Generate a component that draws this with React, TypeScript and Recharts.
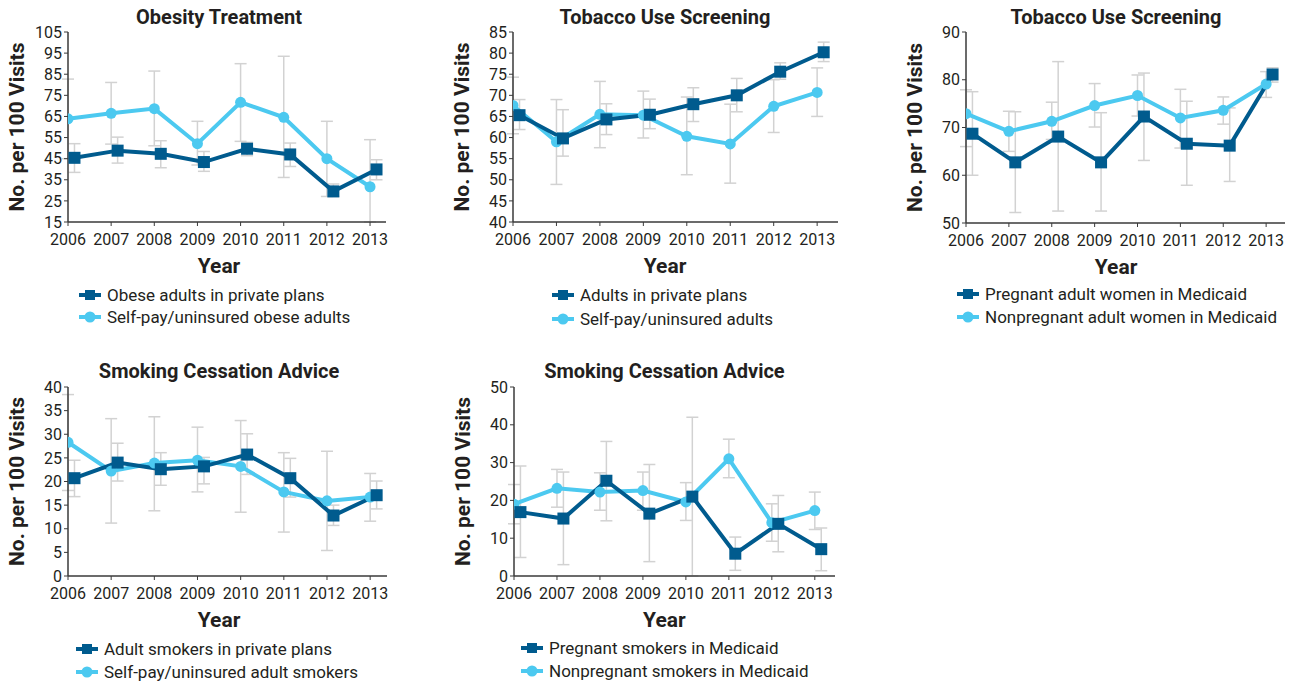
import React from 'react';
import { LineChart, Line, XAxis, YAxis, ErrorBar } from 'recharts';

const YEARS = [2006, 2007, 2008, 2009, 2010, 2011, 2012, 2013];
const DARK = '#005b8e';
const LIGHT = '#4cc9f0';
const ERR = '#d2d2d2';
const AXIS = '#3a3a3a';
const TEXT = '#231f20';
const FONT = 'Roboto, "Noto Sans", sans-serif';

// Chart 1: Obesity Treatment
const obesePrivate = [45.4, 48.8, 47.3, 43.4, 49.7, 47.0, 29.5, 39.9];
const obesePrivateLo = [38.5, 42.9, 40.7, 39.0, 46.4, 41.3, 27.1, 35.0];
const obesePrivateHi = [52.1, 55.2, 53.5, 48.4, 52.7, 52.4, 33.0, 44.5];
const obeseSelfPay = [63.9, 66.5, 68.7, 52.1, 71.7, 64.6, 45.0, 31.7];
const obeseSelfPayLo = [45.0, 51.9, 51.1, 42.0, 53.2, 36.1, 27.1, 15.0];
const obeseSelfPayHi = [82.7, 81.1, 86.5, 62.7, 90.0, 93.5, 62.7, 54.0];

// Chart 2: Tobacco Use Screening (private vs self-pay)
const tobPrivate = [65.3, 59.8, 64.3, 65.4, 67.9, 70.0, 75.6, 80.2];
const tobPrivateLo = [61.9, 55.6, 60.7, 62.1, 63.8, 66.1, 73.8, 78.0];
const tobPrivateHi = [69.0, 66.6, 68.0, 69.1, 71.8, 74.0, 77.7, 82.6];
const tobSelfPay = [67.6, 59.0, 65.5, 65.3, 60.3, 58.5, 67.4, 70.7];
const tobSelfPayLo = [60.9, 48.9, 57.6, 59.9, 51.2, 49.2, 61.2, 65.0];
const tobSelfPayHi = [74.3, 69.0, 73.3, 71.0, 69.6, 67.9, 73.7, 76.5];

// Chart 3: Tobacco Use Screening (Medicaid women)
const tobPregnant = [68.7, 62.7, 68.1, 62.7, 72.3, 66.6, 66.2, 81.1];
const tobPregnantLo = [60.0, 52.2, 52.5, 52.5, 63.1, 57.9, 58.7, 79.5];
const tobPregnantHi = [77.5, 73.3, 83.8, 73.1, 81.4, 75.5, 74.1, 82.5];
const tobNonpregnant = [72.9, 69.2, 71.3, 74.6, 76.7, 72.0, 73.6, 79.1];
const tobNonpregnantLo = [66.0, 65.0, 67.5, 70.1, 72.4, 65.7, 70.7, 76.3];
const tobNonpregnantHi = [77.9, 73.4, 75.3, 79.2, 81.0, 78.0, 76.4, 81.7];

// Chart 4: Smoking Cessation Advice (private vs self-pay)
const smokPrivate = [20.7, 24.0, 22.6, 23.2, 25.7, 20.7, 12.8, 17.1];
const smokPrivateLo = [16.8, 20.1, 19.2, 19.5, 21.5, 16.7, 10.7, 14.2];
const smokPrivateHi = [24.5, 28.1, 26.1, 25.1, 30.1, 24.9, 15.0, 20.1];
const smokSelfPay = [28.3, 22.2, 23.9, 24.5, 23.2, 17.8, 15.9, 16.7];
const smokSelfPayLo = [18.1, 11.2, 13.8, 17.8, 13.5, 9.3, 5.4, 11.6];
const smokSelfPayHi = [38.4, 33.3, 33.7, 31.5, 32.9, 26.1, 26.4, 21.7];

// Chart 5: Smoking Cessation Advice (Medicaid)
const smokPregnant = [16.9, 15.2, 25.2, 16.5, 21.0, 5.9, 13.8, 7.1];
const smokPregnantLo = [4.9, 3.0, 14.6, 3.8, 0.0, 1.5, 6.4, 1.4];
const smokPregnantHi = [29.1, 27.5, 35.6, 29.5, 42.0, 10.3, 21.3, 12.7];
const smokNonpregnant = [19.0, 23.2, 22.2, 22.6, 19.6, 31.0, 14.1, 17.3];
const smokNonpregnantLo = [13.8, 18.2, 17.4, 17.4, 14.7, 26.0, 9.2, 12.3];
const smokNonpregnantHi = [24.2, 28.2, 27.3, 27.5, 24.7, 36.2, 19.1, 22.2];

const ticks1 = [15, 25, 35, 45, 55, 65, 75, 85, 95, 105];
const ticks2 = [40, 45, 50, 55, 60, 65, 70, 75, 80, 85];
const ticks3 = [50, 60, 70, 80, 90];
const ticks4 = [0, 5, 10, 15, 20, 25, 30, 35, 40];
const ticks5 = [0, 10, 20, 30, 40, 50];

type Panel = {
  title: string;
  darkLabel: string;
  lightLabel: string;
  axisX: number;
  axisTop: number;
  axisBottom: number;
  axisRight: number;
  rowTop: number;
  xMax: number;
  yTicks: number[];
  dark: number[];
  darkLo: number[];
  darkHi: number[];
  light: number[];
  lightLo: number[];
  lightHi: number[];
  titleY: number;
  legendTextX: number;
  legendY: [number, number];
};

const panels: Panel[] = [
  {
    title: 'Obesity Treatment',
    darkLabel: 'Obese adults in private plans',
    lightLabel: 'Self-pay/uninsured obese adults',
    axisX: 68, axisTop: 32, axisBottom: 222, axisRight: 386, rowTop: 0, xMax: 2013.37,
    yTicks: ticks1,
    dark: obesePrivate, darkLo: obesePrivateLo, darkHi: obesePrivateHi,
    light: obeseSelfPay, lightLo: obeseSelfPayLo, lightHi: obeseSelfPayHi,
    titleY: 17, legendTextX: 107, legendY: [295, 317],
  },
  {
    title: 'Tobacco Use Screening',
    darkLabel: 'Adults in private plans',
    lightLabel: 'Self-pay/uninsured adults',
    axisX: 513, axisTop: 32, axisBottom: 222, axisRight: 838, rowTop: 0, xMax: 2013.48,
    yTicks: ticks2,
    dark: tobPrivate, darkLo: tobPrivateLo, darkHi: tobPrivateHi,
    light: tobSelfPay, lightLo: tobSelfPayLo, lightHi: tobSelfPayHi,
    titleY: 17, legendTextX: 580, legendY: [295, 319],
  },
  {
    title: 'Tobacco Use Screening',
    darkLabel: 'Pregnant adult women in Medicaid',
    lightLabel: 'Nonpregnant adult women in Medicaid',
    axisX: 966, axisTop: 32, axisBottom: 223, axisRight: 1285, rowTop: 0, xMax: 2013.44,
    yTicks: ticks3,
    dark: tobPregnant, darkLo: tobPregnantLo, darkHi: tobPregnantHi,
    light: tobNonpregnant, lightLo: tobNonpregnantLo, lightHi: tobNonpregnantHi,
    titleY: 17, legendTextX: 985, legendY: [294, 317],
  },
  {
    title: 'Smoking Cessation Advice',
    darkLabel: 'Adult smokers in private plans',
    lightLabel: 'Self-pay/uninsured adult smokers',
    axisX: 68, axisTop: 387, axisBottom: 576, axisRight: 387, rowTop: 355, xMax: 2013.39,
    yTicks: ticks4,
    dark: smokPrivate, darkLo: smokPrivateLo, darkHi: smokPrivateHi,
    light: smokSelfPay, lightLo: smokSelfPayLo, lightHi: smokSelfPayHi,
    titleY: 371, legendTextX: 104, legendY: [649, 672],
  },
  {
    title: 'Smoking Cessation Advice',
    darkLabel: 'Pregnant smokers in Medicaid',
    lightLabel: 'Nonpregnant smokers in Medicaid',
    axisX: 514, axisTop: 387, axisBottom: 576, axisRight: 835, rowTop: 355, xMax: 2013.47,
    yTicks: ticks5,
    dark: smokPregnant, darkLo: smokPregnantLo, darkHi: smokPregnantHi,
    light: smokNonpregnant, lightLo: smokNonpregnantLo, lightHi: smokNonpregnantHi,
    titleY: 371, legendTextX: 549, legendY: [648, 671],
  },
];

const DARK_SHIFT = 0.15;

function SquareDot(props: any) {
  const { cx, cy, index } = props;
  if (cx == null || cy == null) return <g key={`sq-${index}`} />;
  return <rect key={`sq-${index}`} x={cx - 6} y={cy - 6} width={12} height={12} fill={DARK} />;
}

function LegendIcon({ color, square }: { color: string; square: boolean }) {
  return (
    <svg width={24} height={14} style={{ display: 'block' }}>
      <line x1={1} y1={7} x2={23} y2={7} stroke={color} strokeWidth={4} />
      {square ? (
        <rect x={7} y={2} width={10} height={10} fill={color} />
      ) : (
        <circle cx={12} cy={7} r={5.5} fill={color} />
      )}
    </svg>
  );
}

function LegendRow({ x, y, color, square, label }: { x: number; y: number; color: string; square: boolean; label: string }) {
  return (
    <div
      style={{
        position: 'absolute',
        left: x - 29,
        top: y - 11,
        height: 22,
        display: 'flex',
        alignItems: 'center',
        whiteSpace: 'nowrap',
        fontSize: 17,
        color: TEXT,
        fontFamily: FONT,
      }}
    >
      <LegendIcon color={color} square={square} />
      <span style={{ marginLeft: 5 }}>{label}</span>
    </div>
  );
}

function ChartPanel({ p }: { p: Panel }) {
  const boxLeft = p.axisX - 68;
  const xAxisH = 60;
  const W = p.axisRight - boxLeft + 6;
  const H = p.axisBottom - p.rowTop + xAxisH;
  const lightData = YEARS.map((yr, i) => ({
    x: yr,
    v: p.light[i],
    err: [p.light[i] - p.lightLo[i], p.lightHi[i] - p.light[i]],
  }));
  const darkData = YEARS.map((yr, i) => ({
    x: yr + DARK_SHIFT,
    v: p.dark[i],
    err: [p.dark[i] - p.darkLo[i], p.darkHi[i] - p.dark[i]],
  }));
  const yMin = p.yTicks[0];
  const yMax = p.yTicks[p.yTicks.length - 1];
  const span = p.xMax - 2006;

  const yearLabel = (props: any) => {
    const vb = props.viewBox || {};
    const cx = vb.x + (vb.width * 3.5) / span;
    return (
      <text x={cx} y={vb.y + 44} textAnchor="middle" dominantBaseline="central" fontSize={21} fontWeight={700} fill={TEXT} fontFamily={FONT}>
        Year
      </text>
    );
  };
  const yLabel = (props: any) => {
    const vb = props.viewBox || {};
    const cy = vb.y + vb.height / 2;
    return (
      <text x={17} y={cy} transform={`rotate(-90, 17, ${cy})`} textAnchor="middle" dominantBaseline="central" fontSize={21} fontWeight={700} fill={TEXT} fontFamily={FONT}>
        No. per 100 Visits
      </text>
    );
  };

  const catCenter = p.axisX + ((p.axisRight - p.axisX) * 3.5) / span;

  return (
    <>
      <div
        style={{
          position: 'absolute',
          left: catCenter - 200,
          width: 400,
          top: p.titleY - 12,
          height: 24,
          lineHeight: '24px',
          textAlign: 'center',
          fontSize: 20,
          fontWeight: 700,
          color: TEXT,
          fontFamily: FONT,
        }}
      >
        {p.title}
      </div>
      <div style={{ position: 'absolute', left: boxLeft, top: p.rowTop, width: W, height: H }}>
        <LineChart
          width={W}
          height={H}
          margin={{ top: p.axisTop - p.rowTop, right: 6, bottom: 0, left: 18 }}
        >
          <XAxis
            type="number"
            dataKey="x"
            domain={[2006, p.xMax]}
            ticks={YEARS}
            allowDataOverflow
            height={xAxisH}
            tickSize={4}
            tickMargin={8}
            interval={0}
            axisLine={{ stroke: AXIS, strokeWidth: 1.5 }}
            tickLine={{ stroke: AXIS, strokeWidth: 1 }}
            tick={{ fill: TEXT, fontSize: 16, fontFamily: FONT }}
            label={{ content: yearLabel }}
          />
          <YAxis
            type="number"
            domain={[yMin, yMax]}
            ticks={p.yTicks}
            allowDataOverflow
            width={50}
            tickSize={4}
            tickMargin={2}
            interval={0}
            axisLine={{ stroke: AXIS, strokeWidth: 1.5 }}
            tickLine={{ stroke: AXIS, strokeWidth: 1 }}
            tick={{ fill: TEXT, fontSize: 16, fontFamily: FONT }}
            label={{ content: yLabel }}
          />
          <Line data={lightData} dataKey="v" stroke="none" dot={false} activeDot={false} isAnimationActive={false} legendType="none">
            <ErrorBar dataKey="err" direction="y" width={6} stroke={ERR} strokeWidth={1.5} isAnimationActive={false} />
          </Line>
          <Line data={darkData} dataKey="v" stroke="none" dot={false} activeDot={false} isAnimationActive={false} legendType="none">
            <ErrorBar dataKey="err" direction="y" width={6} stroke={ERR} strokeWidth={1.5} isAnimationActive={false} />
          </Line>
          <Line
            data={lightData}
            dataKey="v"
            stroke={LIGHT}
            strokeWidth={4}
            dot={{ r: 5.5, fill: LIGHT, stroke: LIGHT, strokeWidth: 0 }}
            activeDot={false}
            isAnimationActive={false}
          />
          <Line
            data={darkData}
            dataKey="v"
            stroke={DARK}
            strokeWidth={4}
            dot={SquareDot}
            activeDot={false}
            isAnimationActive={false}
          />
        </LineChart>
      </div>
      <LegendRow x={p.legendTextX} y={p.legendY[0]} color={DARK} square label={p.darkLabel} />
      <LegendRow x={p.legendTextX} y={p.legendY[1]} color={LIGHT} square={false} label={p.lightLabel} />
    </>
  );
}

export default function App() {
  return (
    <div style={{ position: 'absolute', left: 0, top: 0, width: 1303, height: 683, background: '#fff', fontFamily: FONT, overflow: 'hidden' }}>
      {panels.map((p, i) => (
        <ChartPanel key={i} p={p} />
      ))}
    </div>
  );
}
